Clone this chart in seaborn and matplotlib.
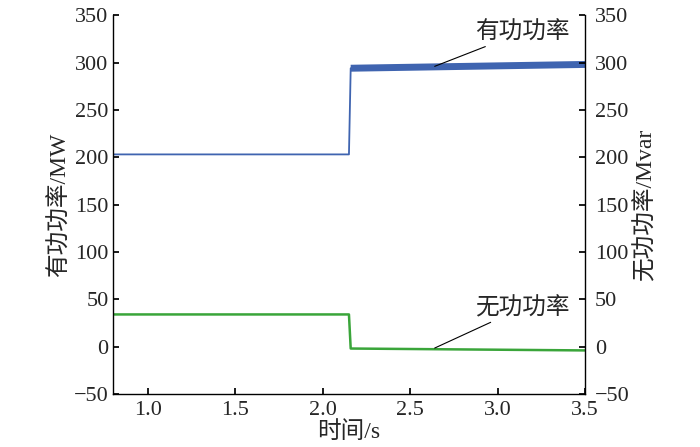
import pandas as pd
import matplotlib
matplotlib.use("Agg")
import matplotlib.pyplot as plt
import seaborn as sns

# readings
t_p = [0.8, 2.15, 2.16, 3.5]
p_mw = [203, 203, 294, 298]
t_q = [0.8, 2.15, 2.16, 3.5]
q_mvar = [34, 34, -2, -4]
y_ticks = [-50, 0, 50, 100, 150, 200, 250, 300, 350]
x_ticks = [1.0, 1.5, 2.0, 2.5, 3.0, 3.5]

sns.set_theme(style="ticks")
plt.rcParams["font.family"] = ["Liberation Serif", "Noto Sans CJK SC"]
plt.rcParams["axes.unicode_minus"] = False

df_p = pd.DataFrame({"t": t_p, "v": p_mw})
df_q = pd.DataFrame({"t": t_q, "v": q_mvar})

fig = plt.figure(figsize=(7, 4.47), dpi=100)
ax = fig.add_axes([0.161, 0.1186, 0.675, 0.8474])

blue = "#3f64b0"
green = "#3aa53a"
sns.lineplot(data=df_p.iloc[:3], x="t", y="v", ax=ax, color=blue, lw=1.3)
sns.lineplot(data=df_p.iloc[2:], x="t", y="v", ax=ax, color=blue, lw=5,
             solid_capstyle="butt")
sns.lineplot(data=df_q, x="t", y="v", ax=ax, color=green, lw=1.8)

num_fs = 16
txt_fs = 17
ax.set_xlim(0.8, 3.5)
ax.set_ylim(-50, 350)
ax.set_xticks(x_ticks)
ax.set_xticklabels([f"{v:.1f}" for v in x_ticks])
ax.set_yticks(y_ticks)
ax.set_yticklabels(["\u221250" if v < 0 else str(v) for v in y_ticks])
ax.set_xlabel("时间/s", fontsize=txt_fs, labelpad=1)
ax.set_ylabel("有功功率/MW", fontsize=txt_fs, labelpad=2)
ax.tick_params(axis="y", direction="in", length=4, labelsize=num_fs, color="black", pad=3)
ax.tick_params(axis="x", direction="in", length=4, labelsize=num_fs, color="black", pad=5)
for s in ["left", "bottom"]:
    ax.spines[s].set_color("black")
    ax.spines[s].set_linewidth(1.0)
ax.spines["top"].set_visible(False)
ax.spines["right"].set_visible(False)

ax2 = ax.twinx()
ax2.set_ylim(-50, 350)
ax2.set_yticks(y_ticks)
ax2.set_yticklabels(["\u221250" if v < 0 else str(v) for v in y_ticks])
ax2.set_ylabel("无功功率/Mvar", fontsize=txt_fs, labelpad=3)
ax2.tick_params(direction="in", length=4, labelsize=num_fs, color="black", pad=7)
ax2.spines["right"].set_color("black")
ax2.spines["right"].set_linewidth(1.0)
for s in ["top", "left", "bottom"]:
    ax2.spines[s].set_visible(False)

ax.annotate("有功功率", xy=(2.64, 296), xytext=(2.87, 332),
            fontsize=txt_fs, ha="left", va="center",
            arrowprops=dict(arrowstyle="-", color="black", lw=0.8, shrinkA=0, shrinkB=0))
ax.annotate("无功功率", xy=(2.64, -1.5), xytext=(2.87, 41),
            fontsize=txt_fs, ha="left", va="center",
            arrowprops=dict(arrowstyle="-", color="black", lw=0.8, shrinkA=0, shrinkB=0))

fig.savefig("out.png", dpi=100)
